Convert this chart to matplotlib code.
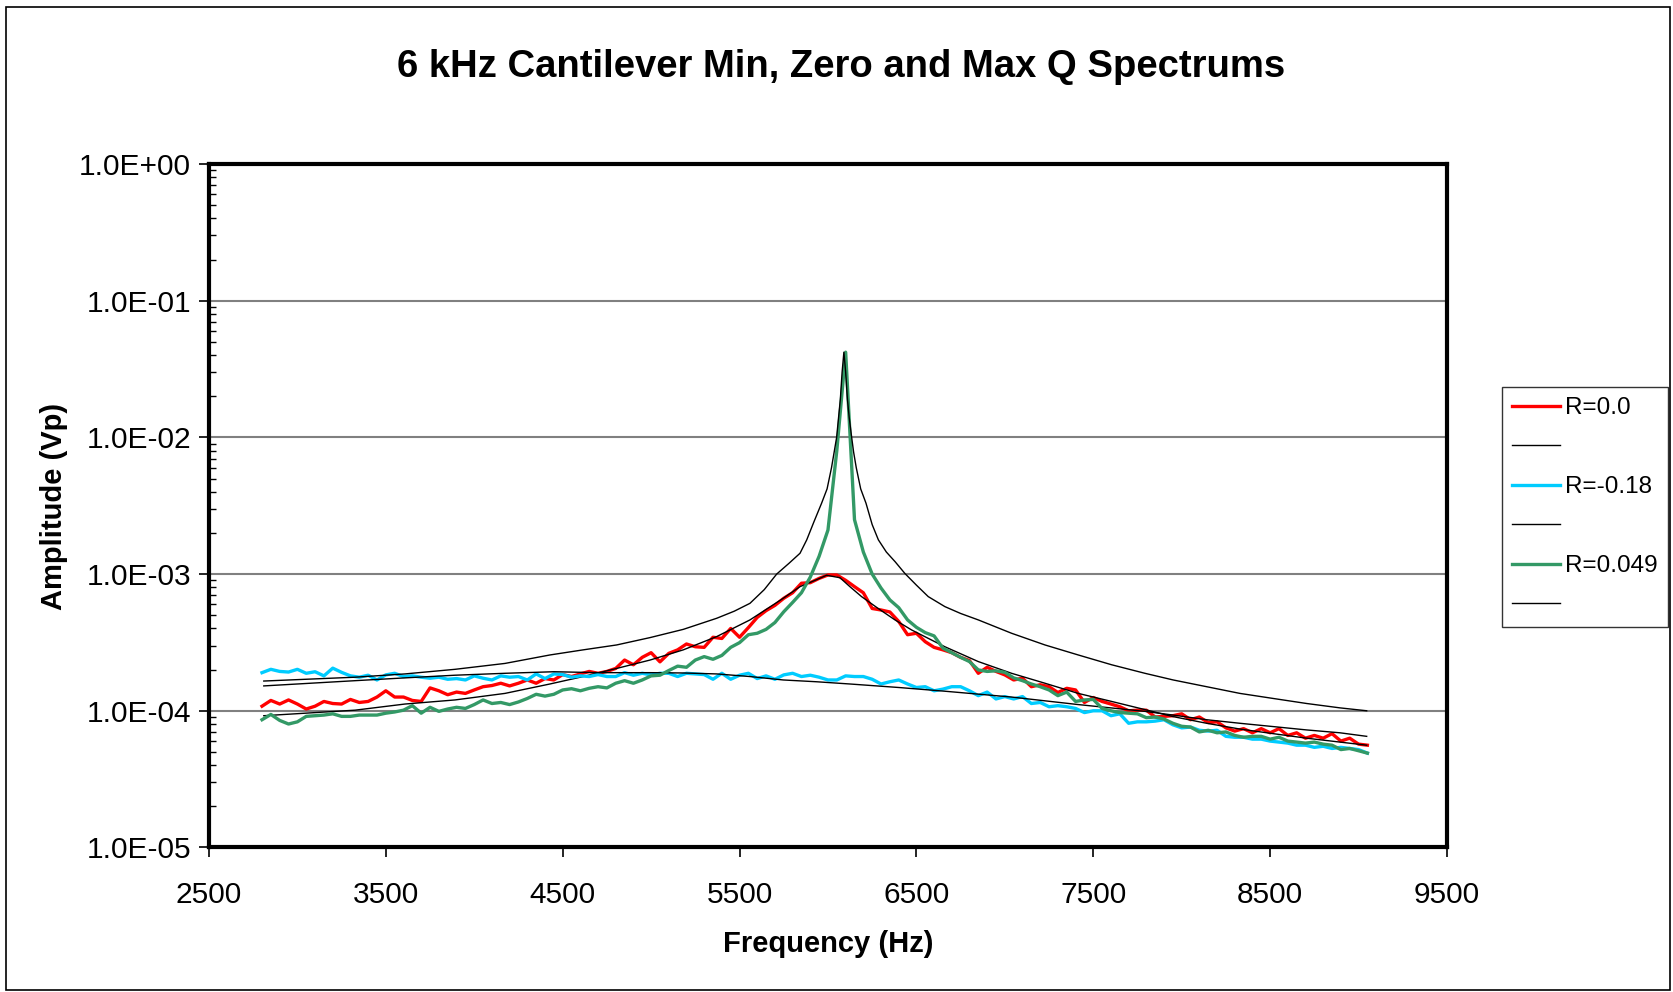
import numpy as np
import matplotlib.pyplot as plt
from matplotlib.ticker import LogLocator, FuncFormatter, NullFormatter
from matplotlib.patches import Rectangle

plt.rcParams['font.family'] = ['Liberation Sans', 'DejaVu Sans']

# measured spectra, sweep 2800..9050 Hz in 50 Hz steps, amplitude in units of 1e-4 Vp
freq = np.arange(2800, 9051, 50)

r_zero = [1.08, 1.19, 1.12, 1.20, 1.12, 1.03, 1.08, 1.17, 1.13, 1.12, 1.21, 1.15, 1.17, 1.26, 1.40, 1.26, 1.26,
          1.19, 1.17, 1.47, 1.40, 1.31, 1.37, 1.34, 1.42, 1.50, 1.53, 1.59, 1.52, 1.59, 1.68, 1.59, 1.72, 1.68,
          1.84, 1.78, 1.86, 1.94, 1.88, 1.94, 2.04, 2.35, 2.17, 2.46, 2.66, 2.28, 2.63, 2.79, 3.08, 2.94, 2.91,
          3.45, 3.38, 4.00, 3.45, 4.06, 4.82, 5.40, 5.90, 6.65, 7.30, 8.57, 8.65, 9.30, 9.85, 9.85, 9.00,
          8.09, 7.30, 5.60, 5.46, 5.28, 4.50, 3.60, 3.69, 3.20, 2.91, 2.79, 2.66, 2.46, 2.33, 1.88, 2.08, 1.94,
          1.83, 1.68, 1.73, 1.50, 1.55, 1.50, 1.36, 1.46, 1.42, 1.15, 1.25, 1.17, 1.12, 1.07, 1.00, 1.01,
          1.01, 0.90, 0.91, 0.92, 0.95, 0.86, 0.90, 0.82, 0.83, 0.75, 0.71, 0.74, 0.69, 0.74, 0.69, 0.74,
          0.66, 0.69, 0.63, 0.66, 0.63, 0.68, 0.60, 0.63, 0.57, 0.56]

r_min = [1.90, 2.01, 1.94, 1.92, 2.01, 1.88, 1.93, 1.80, 2.05, 1.91, 1.80, 1.76, 1.82, 1.68, 1.83, 1.88, 1.78,
         1.80, 1.76, 1.73, 1.76, 1.70, 1.72, 1.68, 1.80, 1.73, 1.68, 1.80, 1.76, 1.78, 1.68, 1.86, 1.72, 1.86,
         1.84, 1.76, 1.80, 1.78, 1.84, 1.78, 1.78, 1.90, 1.82, 1.88, 1.83, 1.88, 1.88, 1.78, 1.88, 1.86, 1.84,
         1.70, 1.88, 1.70, 1.82, 1.88, 1.72, 1.80, 1.70, 1.83, 1.88, 1.78, 1.82, 1.76, 1.68, 1.68, 1.80,
         1.78, 1.78, 1.70, 1.57, 1.63, 1.68, 1.57, 1.48, 1.50, 1.40, 1.44, 1.50, 1.50, 1.40, 1.29, 1.37, 1.22,
         1.27, 1.22, 1.27, 1.13, 1.15, 1.07, 1.09, 1.07, 1.04, 0.97, 1.00, 1.00, 0.92, 0.95, 0.81, 0.83,
         0.83, 0.84, 0.86, 0.79, 0.75, 0.76, 0.72, 0.71, 0.72, 0.65, 0.64, 0.64, 0.62, 0.62, 0.60, 0.59,
         0.58, 0.56, 0.56, 0.54, 0.55, 0.53, 0.54, 0.53, 0.52, 0.49]

r_max = [0.86, 0.94, 0.85, 0.80, 0.83, 0.91, 0.92, 0.93, 0.95, 0.91, 0.91, 0.93, 0.93, 0.93, 0.96, 0.98, 1.01,
         1.09, 0.96, 1.06, 0.99, 1.03, 1.06, 1.04, 1.11, 1.20, 1.13, 1.15, 1.11, 1.16, 1.23, 1.32, 1.28, 1.32,
         1.42, 1.45, 1.40, 1.46, 1.50, 1.47, 1.59, 1.66, 1.59, 1.68, 1.80, 1.82, 1.97, 2.12, 2.08, 2.35, 2.49,
         2.38, 2.54, 2.91, 3.15, 3.60, 3.69, 3.94, 4.42, 5.30, 6.20, 7.30,
         9.5, 13.5, 21.0, 80.0, 420.0, 25.0, 14.5, 10.0, 7.9,
         6.47, 5.68, 4.62, 4.08, 3.73, 3.53, 2.87, 2.66, 2.46, 2.29, 1.99, 1.94, 1.96, 1.91, 1.74, 1.66, 1.57,
         1.50, 1.42, 1.29, 1.37, 1.17, 1.20, 1.21, 1.04, 1.00, 0.97, 0.96, 0.95,
         0.89, 0.90, 0.87, 0.81, 0.77, 0.76, 0.70, 0.72, 0.69, 0.70, 0.66, 0.64, 0.65, 0.65, 0.62, 0.64,
         0.60, 0.59, 0.58, 0.59, 0.57, 0.56, 0.52, 0.53, 0.51, 0.49]

fit_zero_f = [2810, 3326, 3608, 3891, 4174, 4428, 4616, 4805, 4994, 5182, 5371, 5559, 5747, 5842, 5936, 5992,
              6068, 6124, 6190, 6284, 6379, 6473, 6661, 6850, 7038, 7227, 7415, 7604, 7792, 7952, 8141, 8329,
              8518, 8707, 8895, 9046]
fit_zero = [0.92, 1.01, 1.12, 1.20, 1.34, 1.57, 1.78, 2.04, 2.35, 2.79, 3.49, 4.62, 6.65, 8.09, 9.10, 9.80,
            9.40, 8.09, 6.84, 5.60, 4.62, 3.90, 2.94, 2.29, 1.88, 1.59, 1.34, 1.17, 1.02, 0.906, 0.81, 0.735,
            0.68, 0.63, 0.59, 0.56]

fit_min_f = [2810, 3326, 3608, 3891, 4174, 4450, 4700, 4994, 5182, 5371, 5559, 5747, 5936, 6124, 6400, 6661,
             7038, 7415, 7792, 7952, 8141, 8329, 8518, 8707, 8895, 9046]
fit_min = [1.52, 1.66, 1.74, 1.82, 1.88, 1.93, 1.90, 1.90, 1.89, 1.86, 1.78, 1.68, 1.63, 1.57, 1.48, 1.39,
           1.26, 1.11, 0.99, 0.93, 0.86, 0.81, 0.766, 0.724, 0.69, 0.65]

fit_max_f = [2810, 3326, 3608, 3891, 4174, 4428, 4616, 4805, 4994, 5182, 5371, 5470, 5559, 5640, 5710, 5780,
             5842, 5880, 5920, 5964, 5995, 6020, 6035, 6049, 6060, 6070, 6080, 6090, 6100, 6110, 6120, 6134,
             6145, 6160, 6185, 6215, 6250, 6285, 6330, 6380, 6435, 6500, 6567, 6661, 6750, 6850, 7038, 7227,
             7415, 7604, 7792, 7952, 8141, 8329, 8518, 8707, 8895, 9046]
fit_max = [1.65, 1.76, 1.86, 2.01, 2.22, 2.56, 2.79, 3.03, 3.43, 3.94, 4.75, 5.35, 6.11, 7.7, 10.0, 12.0,
           14.2, 17.8, 24.0, 33.0, 42.0, 60.0, 78.0, 100.0, 140.0, 190.0, 300.0, 420.0, 300.0, 190.0, 140.0, 100.0,
           78.0, 60.0, 42.0, 33.0, 23.0, 17.8, 14.5, 12.3, 10.1, 8.3, 6.84, 5.78, 5.15, 4.62, 3.69, 3.03,
           2.56, 2.17, 1.88, 1.68, 1.50, 1.34, 1.23, 1.13, 1.05, 1.00]

labels = ["R=0.0", "", "R=-0.18", "", "R=0.049", ""]
colors = ["#FF0000", "#00CCFF", "#339966"]
unit = 1e-4

fig = plt.figure(figsize=(16.73, 9.92), dpi=100)
ax = fig.add_axes([0.1249, 0.1457, 0.74, 0.689])

handles = []
for data, fx, fy, c in [(r_zero, fit_zero_f, fit_zero, colors[0]),
                        (r_min, fit_min_f, fit_min, colors[1]),
                        (r_max, fit_max_f, fit_max, colors[2])]:
    h1, = ax.plot(freq, np.array(data) * unit, color=c, lw=2.4)
    h2, = ax.plot(fx, np.array(fy) * unit, color="black", lw=1.0)
    handles += [h1, h2]

ax.set_yscale("log")
ax.set_ylim(1e-5, 1)
ax.set_xlim(2500, 9500)
ax.set_xticks(range(2500, 9501, 1000))
ax.yaxis.set_major_locator(LogLocator(base=10, numticks=10))
ax.yaxis.set_minor_locator(LogLocator(base=10, subs=range(2, 10), numticks=10))
ax.yaxis.set_major_formatter(FuncFormatter(lambda v, p: f"{v:.1E}"))
ax.yaxis.set_minor_formatter(NullFormatter())
ax.tick_params(axis="y", which="major", direction="out", length=7, width=1.2, labelsize=21.5, pad=6)
ax.tick_params(axis="y", which="minor", direction="in", length=5, width=1)
ax.tick_params(axis="x", which="major", direction="out", length=7, width=1.2, labelsize=21.5, pad=17)
ax.grid(axis="y", which="major", color="#808080", lw=1.5)
ax.set_axisbelow(True)
for s in ax.spines.values():
    s.set_linewidth(3)

fig.text(0.503, 0.932, "6 kHz Cantilever Min, Zero and Max Q Spectrums",
         ha="center", va="center", fontsize=27.5, fontweight="bold")
fig.text(0.495, 0.0484, "Frequency (Hz)", ha="center", va="center", fontsize=21, fontweight="bold")
fig.text(0.032, 0.489, "Amplitude (Vp)", ha="center", va="center", rotation=90,
         fontsize=21, fontweight="bold")

leg = fig.legend(handles, labels, loc="upper left", bbox_to_anchor=(0.8978, 0.6099),
                 borderaxespad=0, fontsize=17.5, frameon=True, fancybox=False,
                 edgecolor="black", handlelength=1.95, handletextpad=0.22,
                 labelspacing=0.72, borderpad=0.42)
leg.get_frame().set_linewidth(1.0)

fig.patches.append(Rectangle((0.0036, 0.002), 0.9944, 0.991, transform=fig.transFigure,
                             fill=False, edgecolor="black", lw=1.2))

fig.savefig("out.png", dpi=100)
